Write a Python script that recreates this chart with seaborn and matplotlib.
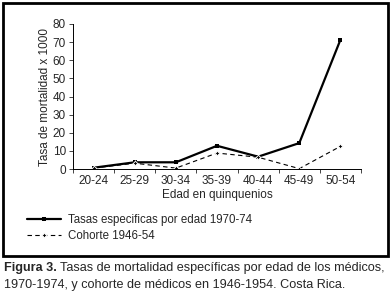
import matplotlib
matplotlib.use("Agg")

import pandas as pd
import matplotlib.pyplot as plt
import matplotlib.patches as mpatches
import seaborn as sns

# datos
edades = ['20-24', '25-29', '30-34', '35-39', '40-44', '45-49', '50-54']
tasas_1970_74 = [0.7, 3.7, 3.7, 12.8, 6.8, 14.3, 71.3]
cohorte_1946_54 = [0.5, 3.2, 0.5, 8.8, 6.5, 0.2, 12.5]

nombre_tasas = 'Tasas especificas por edad 1970-74'
nombre_cohorte = 'Cohorte 1946-54'

sns.set_style('white')
plt.rcParams['font.family'] = ['Liberation Sans', 'DejaVu Sans']

df = pd.DataFrame({
    'edad': edades * 2,
    'tasa': tasas_1970_74 + cohorte_1946_54,
    'serie': [nombre_tasas] * len(edades) + [nombre_cohorte] * len(edades),
})

W, H = 392, 300
fig = plt.figure(figsize=(W / 100, H / 100), dpi=100)
ax = fig.add_axes([73 / W, (H - 169) / H, 288 / W, 145 / H])

sns.lineplot(data=df[df['serie'] == nombre_tasas], x='edad', y='tasa',
             color='black', lw=1.6, marker='s', markersize=3.2,
             markeredgewidth=0, ax=ax, legend=False)
sns.lineplot(data=df[df['serie'] == nombre_cohorte], x='edad', y='tasa',
             color='black', lw=0.8, marker=(4, 1, 0), markersize=4,
             markeredgewidth=0.6, ax=ax, legend=False)
ax.lines[1].set_dashes([4, 3])

ax.set_xlim(-0.5, 6.5)
ax.set_ylim(0, 80)
ax.set_yticks(range(0, 81, 10))
ax.set_xticks(range(len(edades)))
ax.set_xticklabels(edades)
ax.set_xticks([i - 0.5 for i in range(len(edades) + 1)], minor=True)
ax.tick_params(axis='x', which='major', length=0, pad=4, labelsize=8.5)
ax.tick_params(axis='x', which='minor', length=3, width=0.6, direction='out',
               bottom=True)
ax.tick_params(axis='y', length=3, width=0.6, direction='out', left=True,
               pad=2, labelsize=8.5)
for s in ['top', 'right']:
    ax.spines[s].set_visible(False)
for s in ['left', 'bottom']:
    ax.spines[s].set_linewidth(0.7)
    ax.spines[s].set_color('black')
ax.set_xlabel('Edad en quinquenios', fontsize=8.5, labelpad=2)
ax.set_ylabel('Tasa de mortalidad x 1000', fontsize=8.5, labelpad=1)

# leyenda debajo del eje
leg = fig.legend(handles=[ax.lines[0], ax.lines[1]],
                 labels=[nombre_tasas, nombre_cohorte],
                 loc='upper left', bbox_to_anchor=(22 / W, 1 - 209 / H),
                 frameon=False, fontsize=8.3, handlelength=3.0,
                 handletextpad=0.6, labelspacing=0.4, borderaxespad=0)

# marco exterior
fig.patches.append(mpatches.Rectangle((3 / W, 1 - 256 / H), 385 / W, 253 / H,
                                      transform=fig.transFigure, fill=False,
                                      lw=2, edgecolor='black'))

# pie de figura
t = fig.text(4 / W, 1 - 268 / H, 'Figura 3.', fontsize=9.1,
             fontweight='bold', va='center')
fig.canvas.draw()
bb = t.get_window_extent()
fig.text(bb.x1 / W + 3 / W, 1 - 268 / H,
         'Tasas de mortalidad específicas por edad de los médicos,',
         fontsize=9.1, va='center')
fig.text(4 / W, 1 - 285 / H,
         '1970-1974, y cohorte de médicos en 1946-1954. Costa Rica.',
         fontsize=9.1, va='center')

fig.savefig('out.png', dpi=100)
plt.close(fig)
